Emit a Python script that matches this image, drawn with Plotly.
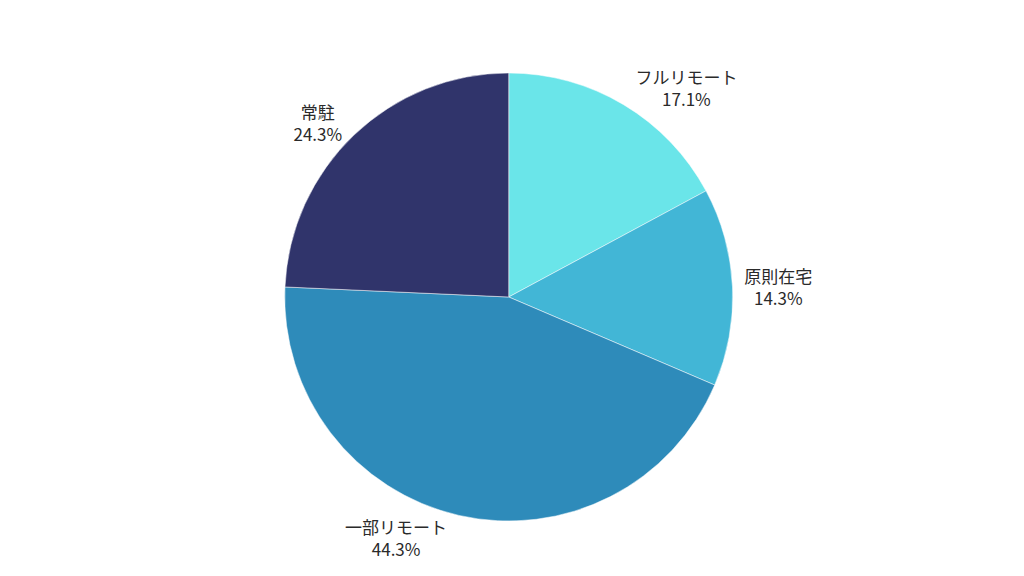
import plotly.graph_objects as go

labels = ["フルリモート", "原則在宅", "一部リモート", "常駐"]
counts = [12, 10, 31, 17]
colors = ["#6AE5E9", "#42B6D6", "#2E8BBA", "#30346B"]

fig = go.Figure()
fig.add_trace(
    go.Pie(
        labels=labels,
        values=counts,
        sort=False,
        direction="clockwise",
        rotation=0,
        domain=dict(x=[0.189, 0.789], y=[0, 1]),
        textposition="outside",
        textinfo="label+percent",
        texttemplate="%{label}<br>%{percent:.1%}",
        marker=dict(colors=colors, line=dict(color="white", width=0.5)),
        textfont=dict(size=17, color="#2a2a2a"),
        showlegend=False,
    )
)
fig.update_layout(
    width=1024,
    height=576,
    margin=dict(l=0, r=0, t=65, b=63),
    paper_bgcolor="white",
    plot_bgcolor="white",
    font=dict(family="Noto Sans CJK JP, Noto Sans, sans-serif"),
)
fig.write_html("out.html")
